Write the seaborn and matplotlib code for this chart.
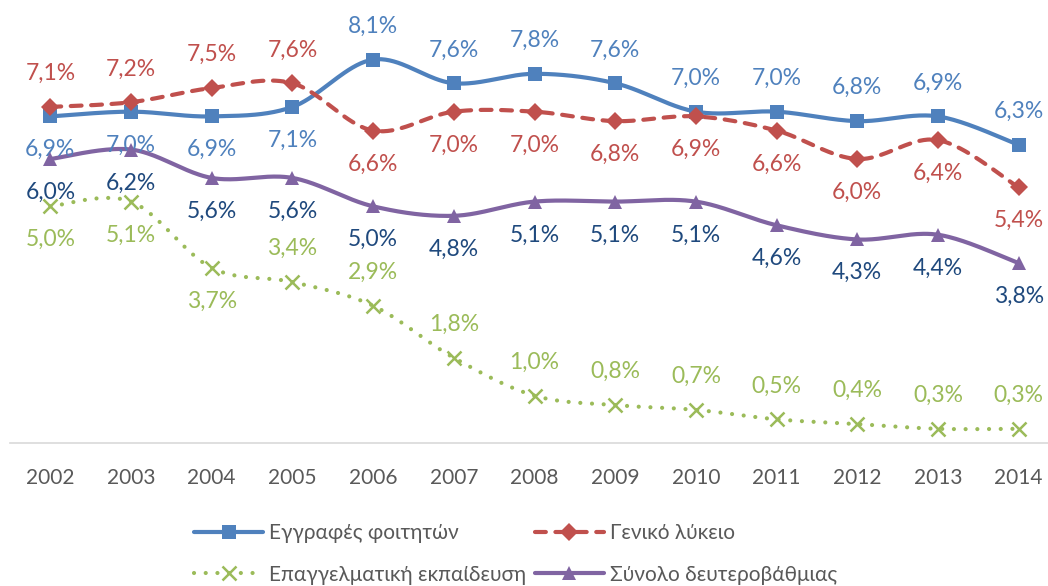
import numpy as np
import matplotlib
matplotlib.use("Agg")
import matplotlib.pyplot as plt
from matplotlib.lines import Line2D
import seaborn as sns

# =========================
# Data
# =========================
years = [2002, 2003, 2004, 2005, 2006, 2007, 2008, 2009, 2010, 2011, 2012, 2013, 2014]

students = [6.9, 7.0, 6.9, 7.1, 8.1, 7.6, 7.8, 7.6, 7.0, 7.0, 6.8, 6.9, 6.3]
general_lyceum = [7.1, 7.2, 7.5, 7.6, 6.6, 7.0, 7.0, 6.8, 6.9, 6.6, 6.0, 6.4, 5.4]
vocational = [5.0, 5.1, 3.7, 3.4, 2.9, 1.8, 1.0, 0.8, 0.7, 0.5, 0.4, 0.3, 0.3]
secondary_total = [6.0, 6.2, 5.6, 5.6, 5.0, 4.8, 5.1, 5.1, 5.1, 4.6, 4.3, 4.4, 3.8]

names = [
    "Εγγραφές φοιτητών",
    "Γενικό λύκειο",
    "Επαγγελματική εκπαίδευση",
    "Σύνολο δευτεροβάθμιας",
]

# label side per point: +1 above, -1 below
students_side = [-1] * 4 + [1] * 9
lyceum_side = [1] * 4 + [-1] * 9
vocational_side = [-1] * 3 + [1] * 10
total_side = [-1] * 13

# =========================
# Style
# =========================
sns.set_theme(style="white")
plt.rcParams["font.family"] = ["Lato", "DejaVu Sans"]

LW = 3.0

series = [
    dict(y=students, side=students_side, color="#4f81bd", lab="#4f81bd",
         ls="-", marker="s", ms=10.5, mew=0),
    dict(y=general_lyceum, side=lyceum_side, color="#c0504d", lab="#c0504d",
         ls=(0, (2.6, 2.3)), marker="D", ms=9, mew=0),
    dict(y=vocational, side=vocational_side, color="#9bbb59", lab="#9bbb59",
         ls=(0, (0.01, 2.8)), marker="x", ms=10, mew=1.8),
    dict(y=secondary_total, side=total_side, color="#8064a2", lab="#1f497d",
         ls="-", marker="^", ms=10.5, mew=0),
]


def smooth(x, y, n=40):
    # Excel-like smoothed line (cubic Bezier through the points)
    pts = np.column_stack([x, y]).astype(float)
    m = len(pts)
    out = []
    t = np.linspace(0, 1, n)[:, None]
    for i in range(m - 1):
        p0 = pts[max(i - 1, 0)]
        p1 = pts[i]
        p2 = pts[i + 1]
        p3 = pts[min(i + 2, m - 1)]
        c1 = p1 + (p2 - p0) / 6
        c2 = p2 - (p3 - p1) / 6
        seg = ((1 - t) ** 3) * p1 + 3 * ((1 - t) ** 2) * t * c1 \
            + 3 * (1 - t) * t ** 2 * c2 + t ** 3 * p2
        out.append(seg if i == 0 else seg[1:])
    out = np.vstack(out)
    return out[:, 0], out[:, 1]


fig = plt.figure(figsize=(10.48, 5.86), dpi=100)
ax = fig.add_axes([10 / 1048, 143 / 586, 1049 / 1048, 426 / 586])

xpos = np.arange(len(years))

for s in series:
    sx, sy = smooth(xpos, s["y"])
    sns.lineplot(x=sx, y=sy, sort=False, estimator=None, ax=ax,
                 color=s["color"], linewidth=LW, linestyle=s["ls"],
                 dash_capstyle="round", solid_capstyle="round")
    ax.plot(xpos, s["y"], linestyle="none", marker=s["marker"],
            markersize=s["ms"], color=s["color"],
            markeredgewidth=s["mew"], markeredgecolor=s["color"], zorder=4)
    for xi, yi, side in zip(xpos, s["y"], s["side"]):
        ax.annotate(
            f"{yi:.1f}%".replace(".", ","),
            (xi, yi),
            xytext=(0, 24 * side),
            textcoords="offset points",
            ha="center",
            va="center",
            fontsize=16.5,
            color=s["lab"],
        )

# =========================
# Axes
# =========================
ax.set_xlim(-0.5, 12.5)
ax.set_ylim(0, 9)
ax.set_xticks(xpos)
ax.set_xticklabels([str(y) for y in years])
ax.set_yticks([])
ax.tick_params(axis="x", length=0, pad=18, labelsize=15, labelcolor="#595959")
for side in ["top", "left", "right"]:
    ax.spines[side].set_visible(False)
ax.spines["bottom"].set_color("#d9d9d9")
ax.spines["bottom"].set_linewidth(1.2)
ax.patch.set_alpha(0)

# =========================
# Legend
# =========================
handles = []
for s, name in zip(series, names):
    handles.append(Line2D([0], [0], color=s["color"], linewidth=LW,
                          linestyle=s["ls"], marker=s["marker"],
                          markersize=s["ms"], markeredgewidth=s["mew"],
                          markeredgecolor=s["color"],
                          dash_capstyle="round", solid_capstyle="round",
                          label=name))

order = [0, 2, 1, 3]
fig.legend(
    [handles[i] for i in order],
    [names[i] for i in order],
    ncol=2,
    loc="center",
    bbox_to_anchor=(0.492, 0.055),
    frameon=False,
    fontsize=15,
    handlelength=3.3,
    handletextpad=0.3,
    columnspacing=0.4,
    labelspacing=1.05,
    borderpad=0,
    labelcolor="#595959",
)

plt.savefig("out.png", dpi=100)
